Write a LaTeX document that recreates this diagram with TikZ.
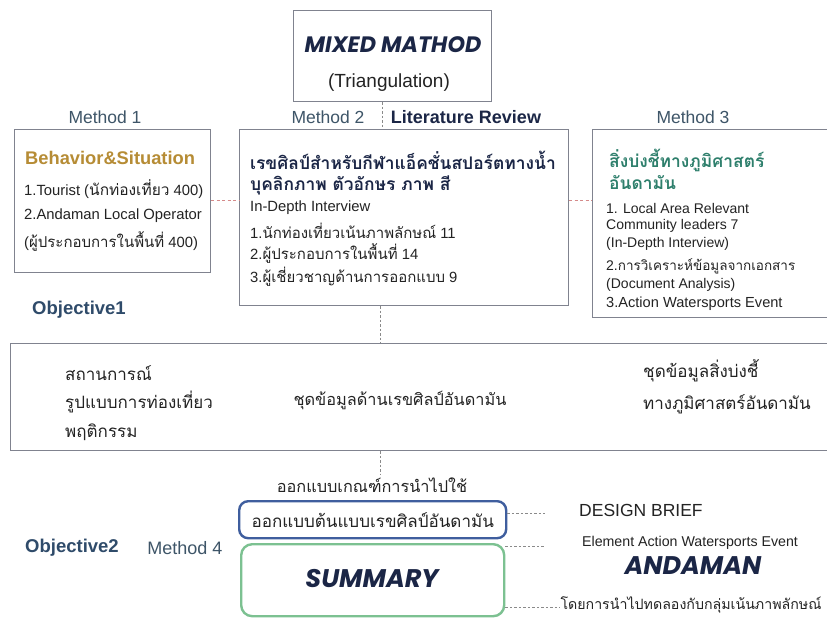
\documentclass[tikz,border=0pt]{standalone}
\usepackage{fontspec}
\setmainfont{Liberation Sans}
\newfontfamily\thf[Script=Thai]{Loma}
\newfontfamily\popf{Poppins}
\usetikzlibrary{calc}
\definecolor{boxgray}{HTML}{80838F}
\definecolor{slate}{HTML}{3E5568}
\definecolor{gold}{HTML}{B68C35}
\definecolor{navy}{HTML}{1B2646}
\definecolor{tealc}{HTML}{2E7F6C}
\definecolor{objblue}{HTML}{2F4B6A}
\definecolor{reddash}{HTML}{D58A8A}
\definecolor{graydash}{HTML}{8A8A8A}
\definecolor{bluebox}{HTML}{3F5E9E}
\definecolor{greenbox}{HTML}{7CC191}
\definecolor{bodyc}{HTML}{232323}
\newcommand{\fs}[1]{\fontsize{#1}{#1}\selectfont}
\tikzset{
  frame/.style={draw=boxgray, line width=1.1pt, inner sep=0pt, anchor=north west},
  lt/.style={inner sep=0pt, anchor=west, text=bodyc, font=\fs{14.8}},
  lth/.style={inner sep=0pt, anchor=west, text=bodyc, font=\fs{17}\thf},
  meth/.style={inner sep=0pt, text=slate, font=\fs{17.5}},
  obj/.style={inner sep=0pt, anchor=west, text=objblue, font=\fs{18.5}\bfseries},
  rdash/.style={draw=reddash, line width=0.8pt, dash pattern=on 3pt off 2.5pt},
  gdash/.style={draw=graydash, line width=0.9pt, dash pattern=on 2.5pt off 2pt},
}
\begin{document}
\begin{tikzpicture}[x=1pt,y=-1pt]
\useasboundingbox (0,0) rectangle (827,618);
\clip (0,0) rectangle (827,618);
\fill[white] (0,0) rectangle (827,618);
% boxes
\node[frame, minimum width=198pt, minimum height=91pt] (mm) at (293,10) {};
\node[frame, minimum width=196pt, minimum height=143pt] (m1) at (14,129) {};
\node[frame, minimum width=329pt, minimum height=176pt] (m2) at (239,129) {};
\node[frame, minimum width=270pt, minimum height=188pt] (m3) at (592,129) {};
\node[frame, minimum width=840pt, minimum height=107pt] (big) at (10,343) {};
\node[draw=bluebox, line width=2.4pt, rounded corners=9pt, inner sep=0pt, minimum width=267pt, minimum height=37pt, anchor=north west] (blue) at (238,500) {};
\node[draw=greenbox, line width=2.4pt, rounded corners=11pt, inner sep=0pt, minimum width=263pt, minimum height=72pt, anchor=north west] (green) at (240,543) {};
% top
\node[inner sep=0pt, text=navy, font=\fs{22.3}\popf\bfseries\itshape] (mmt) at (393,45) {MIXED MATHOD};
\node[inner sep=0pt, text=bodyc, font=\fs{19}] (tri) at (389,83) {(Triangulation)};
\node[meth] (l1) at (105,117) {Method 1};
\node[meth] (l2) at (328,117) {Method 2};
\node[inner sep=0pt, text=navy, font=\fs{18}\bfseries] (lr) at (466,117) {Literature Review};
\node[meth] (l3) at (693,117) {Method 3};
% method 1
\node[inner sep=0pt, anchor=west, text=gold, font=\fs{18.3}\bfseries] (b1) at (25,158) {Behavior\&Situation};
\node[lt] (a1) at (24,189) {1.Tourist ({\thf\fs{15.5}นักท่องเที่ยว} 400)};
\node[lt] (a2) at (24,216) {2.Andaman Local Operator};
\node[lt] (a3) at (24,242) {({\thf\fs{15}ผู้ประกอบการในพื้นที่} 400)};
% method 2
\node[inner sep=0pt, anchor=west, text=navy, font=\fs{17.4}\thf\bfseries] (b2) at (250,160) {เรขศิลป์สำหรับกีฬาแอ็คชั่นสปอร์ตทางน้ำ};
\node[inner sep=0pt, anchor=west, text=navy, font=\fs{17.4}\thf\bfseries] (b2b) at (250,185) {บุคลิกภาพ ตัวอักษร ภาพ สี};
\node[lt] (c1) at (250,208) {In-Depth Interview};
\node[lt] (c2) at (250,231) {1.{\thf\fs{15}นักท่องเที่ยวเน้นภาพลักษณ์} 11};
\node[lt] (c3) at (250,254) {2.{\thf\fs{15}ผู้ประกอบการในพื้นที่} 14};
\node[lt] (c4) at (250,277) {3.{\thf\fs{15}ผู้เชี่ยวชาญด้านการออกแบบ} 9};
% method 3
\node[inner sep=0pt, anchor=west, text=tealc, font=\fs{17.4}\thf\bfseries] (b3) at (609,160) {สิ่งบ่งชี้ทางภูมิศาสตร์};
\node[inner sep=0pt, anchor=west, text=tealc, font=\fs{17.4}\thf\bfseries] (b3b) at (609,183) {อันดามัน};
\node[lt, font=\fs{14}] (d1) at (606,208) {1. Local Area Relevant};
\node[lt, font=\fs{14}] (d2) at (606,226) {Community leaders 7};
\node[lt, font=\fs{14}] (d3) at (606,244) {(In-Depth Interview)};
\node[lt, font=\fs{14}] (d4) at (606,266) {2.{\thf\fs{13.5}การวิเคราะห์ข้อมูลจากเอกสาร}};
\node[lt, font=\fs{14}] (d5) at (606,285) {(Document Analysis)};
\node[lt, font=\fs{14.6}] (d6) at (606,304) {3.Action Watersports Event};
% objective 1
\node[obj] (o1) at (32,310) {Objective1};
\node[lth] (e1) at (65,373) {สถานการณ์};
\node[lth] (e2) at (65,402) {รูปแบบการท่องเที่ยว};
\node[lth] (e3) at (65,432) {พฤติกรรม};
\node[lth, anchor=center, font=\fs{16.3}\thf] (e4) at (400,400) {ชุดข้อมูลด้านเรขศิลป์อันดามัน};
\node[lth] (e5) at (643,371) {ชุดข้อมูลสิ่งบ่งชี้};
\node[lth] (e6) at (643,404) {ทางภูมิศาสตร์อันดามัน};
% objective 2
\node[lth, anchor=center, font=\fs{16.3}\thf] (crit) at (372,485) {ออกแบบเกณฑ์การนำไปใช้};
\node[lth, anchor=center] (proto) at (blue.center) {ออกแบบต้นแบบเรขศิลป์อันดามัน};
\node[inner sep=0pt, text=navy, font=\fs{25.5}\popf\bfseries\itshape] (sum) at (372,579) {SUMMARY};
\node[obj] (o2) at (25,548) {Objective2};
\node[meth, font=\fs{18}] (l4) at (185,548) {Method 4};
\node[inner sep=0pt, anchor=west, text=bodyc, font=\fs{17.5}] (db) at (579,510) {DESIGN BRIEF};
\node[inner sep=0pt, text=bodyc, font=\fs{14.2}] (el) at (690,543) {Element Action Watersports Event};
\node[inner sep=0pt, text=navy, font=\fs{25.5}\popf\bfseries\itshape] (and) at (693,566) {ANDAMAN};
\node[inner sep=0pt, text=bodyc, font=\fs{14.2}\thf] (test) at (691,605) {โดยการนำไปทดลองกับกลุ่มเน้นภาพลักษณ์};
% connectors
\coordinate (vx) at (382,0);
\coordinate (vy) at (380,0);
\coordinate (ry) at (0,200);
\draw[gdash] (mm.south -| vx) -- (m2.north -| vx);
\draw[rdash] (m1.east |- ry) -- (m2.west |- ry);
\draw[rdash] (m2.east |- ry) -- (m3.west |- ry);
\draw[gdash] (m2.south -| vy) -- (big.north -| vy);
\draw[gdash] (big.south -| vy) -- ($(crit.north -| vy)+(0,-2)$);
\coordinate (r1) at (545,513);
\coordinate (r2) at (545,546);
\coordinate (r3) at (560,607);
\draw[gdash] (blue.east |- r1) -- (r1);
\draw[gdash] (green.east |- r2) -- (r2);
\draw[gdash] (green.east |- r3) -- (r3);
\end{tikzpicture}
\end{document}
